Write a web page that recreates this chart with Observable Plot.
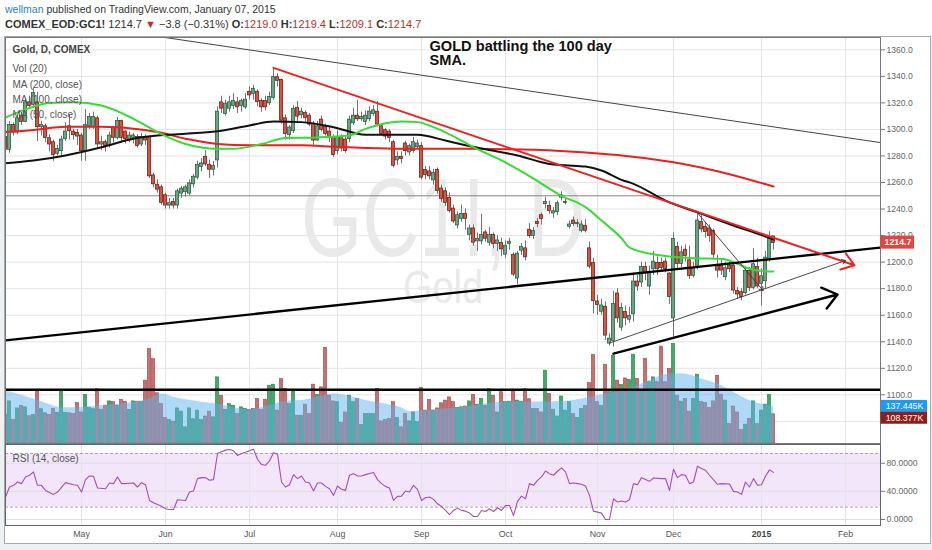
<!DOCTYPE html>
<html><head><meta charset="utf-8">
<script src="https://cdn.jsdelivr.net/npm/d3@7"></script>
<script src="https://cdn.jsdelivr.net/npm/@observablehq/plot@0.6"></script>
<style>
body{margin:0;background:#fff;}
#root{position:relative;width:932px;height:550px;overflow:hidden;background:#eef1f4;font-family:"Liberation Sans",Arial,sans-serif;}
#header{position:absolute;left:0;top:0;width:932px;height:37px;background:#fff;color:#333;}
#l1{position:absolute;left:5px;top:3px;font-size:10.5px;white-space:nowrap;}
#l2{position:absolute;left:5px;top:18px;font-size:11px;white-space:nowrap;}
#chartbg{position:absolute;left:4px;top:36px;width:927px;height:508px;background:#fff;box-sizing:border-box;border:1px solid #a9a9a9;}
.red{color:#c0312a;}
.lay{position:absolute;}
</style></head>
<body><div id="root">
<div id="header">
<div id="l1"><span style="color:#2a7fd4">wellman</span> published on TradingView.com, January 07, 2015</div>
<div id="l2"><b>COMEX_EOD:GC1!</b> 1214.7 <span class="red">&#9660;</span> &minus;3.8 (&minus;0.31%) <b>O:</b><span class="red">1219.0</span> <b>H:</b><span class="red">1219.4</span> <b>L:</b><span class="red">1209.1</span> <b>C:</b><span class="red">1214.7</span></div>
</div>
<div id="chartbg"></div>
</div>
<script>
// ---------- DATA (bar index 0 = 3 Apr 2014 ... 192 = 7 Jan 2015) ----------
const opens = [1294,1285,1303,1298,1310,1306,1320,1319,1320,1302, 1302,1293,1290,1282,1284,1293,1302,1298,1297,1295,
1284,1303,1302,1308,1289,1290,1288,1301,1294,1306, 1298,1292,1294,1294,1289,1294,1294,1265,1258,1256,
1250,1243,1245,1243,1252,1253,1252,1259,1264,1272, 1279,1273,1270,1277,1320,1312,1316,1318,1320,1318,
1317,1328,1327,1328,1321,1321,1320,1324,1339,1337, 1308,1296,1299,1316,1311,1312,1310,1304,1292,1307,
1302,1298,1294,1284,1294,1292,1293,1305,1310,1308, 1306,1308,1312,1313,1302,1299,1298,1290,1277,1279,
1289,1283,1284,1287,1287,1269,1268,1262,1269,1255, 1253,1248,1240,1228,1233,1236,1221,1225,1216,1216,
1222,1215,1220,1214,1214,1206,1214,1205,1188,1209, 1210,1224,1220,1230,1235,1244,1242,1237,1238,1249,
1245,1227,1231,1229,1224,1227,1210,1199,1170,1163, 1166,1139,1141,1176,1151,1162,1157,1161,1185,1185,
1196,1182,1195,1199,1199,1200,1191,1158,1211,1199, 1209,1201,1190,1197,1230,1226,1225,1223,1197,1197,
1189,1197,1197,1178,1177,1177,1193,1181,1196,1184, 1186,1203,1219.0];
const highs = [1297,1306,1305,1311,1313,1323,1325,1331,1328,1306, 1304,1296,1292,1288,1295,1305,1311,1300,1300,1297,
1315,1312,1313,1310,1295,1292,1298,1302,1309,1307, 1299,1298,1297,1296,1297,1296,1295,1267,1262,1258,
1252,1248,1248,1255,1257,1258,1262,1266,1276,1278, 1284,1277,1276,1317,1325,1322,1325,1327,1324,1323,
1327,1332,1333,1330,1323,1325,1328,1346,1342,1338, 1311,1303,1318,1321,1316,1314,1312,1306,1306,1310,
1304,1302,1296,1299,1296,1294,1310,1316,1322,1313, 1314,1317,1318,1321,1304,1301,1300,1292,1283,1283,
1291,1289,1294,1292,1290,1272,1272,1270,1271,1258, 1256,1252,1243,1238,1243,1240,1228,1228,1222,1236,
1224,1226,1222,1220,1218,1216,1218,1207,1208,1214, 1216,1229,1226,1233,1237,1249,1246,1241,1246,1253,
1248,1231,1234,1232,1231,1232,1215,1203,1175,1172, 1170,1146,1178,1180,1169,1167,1166,1192,1190,1200,
1200,1197,1208,1204,1203,1203,1192,1222,1215,1212, 1213,1212,1200,1238,1235,1230,1228,1225,1205,1202,
1200,1200,1199,1181,1180,1196,1196,1210,1203,1195, 1208,1223,1219.4];
const lows = [1283,1282,1295,1296,1303,1305,1315,1316,1291,1295, 1290,1283,1276,1280,1279,1291,1292,1292,1288,1276,
1276,1300,1300,1285,1284,1283,1286,1290,1292,1290, 1289,1290,1289,1286,1287,1288,1263,1256,1252,1243,
1240,1240,1240,1240,1248,1249,1250,1256,1262,1268, 1272,1263,1265,1271,1312,1310,1313,1315,1312,1313,
1315,1322,1322,1317,1313,1314,1318,1322,1332,1304, 1292,1292,1297,1305,1308,1305,1302,1288,1291,1298,
1295,1290,1279,1281,1283,1282,1290,1303,1306,1306, 1303,1306,1310,1302,1295,1292,1290,1271,1273,1274,
1280,1280,1282,1285,1262,1262,1262,1258,1251,1245, 1242,1237,1229,1225,1230,1224,1216,1212,1208,1213,
1215,1212,1210,1208,1204,1203,1209,1189,1183,1205, 1201,1218,1217,1226,1228,1240,1236,1233,1235,1246,
1243,1225,1227,1226,1222,1222,1195,1161,1160,1160, 1141,1137,1136,1154,1148,1152,1154,1155,1178,1181,
1186,1175,1190,1190,1193,1192,1168,1142,1195,1196, 1200,1187,1188,1194,1222,1218,1215,1202,1188,1190,
1186,1192,1176,1172,1171,1175,1178,1179,1180,1167, 1180,1200,1209.1];
const closes = [1285,1303,1298,1308,1306,1320,1318,1327,1302,1303, 1294,1289,1281,1285,1292,1298,1299,1296,1295,1284,
1303,1309,1309,1289,1290,1288,1295,1294,1306,1294, 1293,1295,1295,1288,1294,1292,1265,1259,1255,1245,
1243,1244,1243,1253,1255,1256,1259,1264,1273,1274, 1274,1270,1272,1313,1316,1319,1320,1321,1317,1321,
1322,1326,1330,1321,1317,1317,1324,1339,1337,1307, 1297,1301,1315,1310,1313,1309,1304,1292,1302,1300,
1297,1294,1281,1294,1286,1284,1307,1310,1308,1309, 1310,1313,1314,1304,1297,1295,1294,1273,1279,1278,
1284,1287,1290,1289,1264,1266,1265,1267,1254,1248, 1245,1239,1231,1235,1236,1233,1225,1215,1217,1220,
1218,1220,1214,1216,1210,1212,1215,1191,1206,1211, 1204,1220,1223,1229,1233,1245,1239,1238,1244,1250,
1245,1228,1229,1229,1228,1224,1197,1171,1168,1167, 1145,1142,1168,1158,1165,1158,1159,1185,1182,1196,
1192,1192,1200,1195,1196,1195,1174,1217,1199,1207, 1205,1190,1195,1231,1225,1223,1220,1206,1194,1194,
1195,1195,1179,1176,1174,1193,1181,1198,1182,1189, 1203,1218,1214.7];
const volumes = [107,156,88,130,139,134,101,106,198,127, 112,106,128,114,198,114,112,109,150,115,
180,132,127,201,125,140,156,153,140,162, 153,125,156,155,153,233,350,313,186,146,
95,87,81,130,118,60,130,90,122,87, 100,118,97,245,177,125,146,140,109,134,
128,124,128,165,125,162,214,218,122,239, 202,146,193,103,103,144,109,218,180,208,
354,177,156,153,77,115,177,153,165,69, 109,109,109,202,82,87,91,153,95,60,
109,82,115,79,206,122,162,122,130,149, 159,171,153,132,134,137,156,180,144,165,
140,201,177,115,190,153,155,193,159,155, 201,164,128,128,115,270,183,125,100,174,
122,153,109,95,128,139,224,328,153,140, 292,190,325,233,217,241,235,329,239,196,
313,227,245,227,359,227,276,369,177,155, 165,118,165,255,153,150,132,156,251,181,
159,72,137,115,50,70,91,156,72,122, 144,180,108.377];
// Volume moving average (20) read at vertices
const volMaIdx = [0,7,15,24,32,36,39,42,49,53,57,61,65,70,74,78,82,86,90,95,99,101,107,115,124,140,144,150,157,162,165,169,174,178,182,186,192];
const volMaVal = [196,165,132,140,153,165,183,171,153,146,132,125,137,156,159,171,183,175,159,146,132,118,124,135,153,156,165,183,208,239,256,258,239,220,190,159,137.445];
// Moving averages read at vertices
const ma200Idx = [0,7,15,24,32,38,45,53,61,74,82,90,99,115,132,149,154,167,179,192];
const ma200Val = [1298,1299.5,1302,1302,1300.5,1298,1293,1289,1288,1288,1287,1286,1285.4,1285.5,1284.6,1281.6,1280.4,1275.3,1267.8,1257];
const ma100Idx = [0,7,15,24,32,38,45,53,61,67,74,82,90,103,110,115,120,128,136,140,145,149,154,157,165,174,182,190,192];
const ma100Val = [1274.6,1276.6,1280.4,1286.6,1293,1295.4,1296.7,1298.7,1303,1306,1305.5,1301.7,1296,1296,1291.6,1288,1285,1280.4,1274,1273,1272,1269,1262,1259,1246.4,1236.4,1227.6,1219.3,1217];
const ma50Idx = [0,4,11,17,24,32,38,45,53,57,64,70,78,86,90,95,99,103,107,114,117,124,132,139,145,149,154,156,164,172,179,183,186,190,192];
const ma50Val = [1309,1314,1320,1320.5,1318,1308,1298,1289,1285.4,1285.4,1289,1293.6,1294,1295.5,1300.4,1304.7,1306,1305.5,1301.7,1291.6,1286.6,1276.6,1263,1250,1241.4,1231.4,1218,1211,1205,1203,1202.5,1198.7,1195,1193.2,1193];
// RSI (14) as shown on its own axis, read at vertices
const rsiIdx = [0,1,2,3,4,5,6,7,8,9,10,12,13,15,17,18,19,20,21,22,23,25,26,27,28,29,30,32,33,34,35,36,37,39,40,41,42,43,45,46,47,48,49,50,51,52,53,54,55,56,57,58,59,60,62,63,64,65,66,67,68,69,70,71,72,73,74,75,76,77,78,79,80,81,82,83,84,85,86,87,88,89,90,92,93,94,95,96,97,98,99,100,101,102,103,104,105,106,107,108,109,110,111,112,113,114,115,116,117,118,119,120,121,122,123,124,125,126,127,128,129,130,131,132,133,134,135,136,137,138,139,140,141,142,143,144,145,146,147,148,149,150,151,152,153,154,155,156,157,158,159,161,162,164,165,166,167,168,169,170,171,172,173,174,175,176,178,179,181,182,183,184,185,186,187,188,189,190,191,192];
const rsiVal = [32,46.2,48.6,53.3,51,60.5,62.9,67.6,48.6,48.6,41.4,35.7,39,52.4,49.5,48.6,39,56.7,61.9,61.4,44.8,43.8,51.9,51,60.5,51,51,51.9,46.2,52.4,49.5,27.1,23.8,19,15.2,14.3,14.3,28.1,27.1,39,40.5,58.1,59.5,59.5,55.7,56.7,93.8,96.2,98.6,99.5,97.6,91,93.8,95.7,100,85.7,78.1,77.1,83.3,94.8,92.9,53.3,46.2,49.5,63.8,58.1,61.9,53.3,51.9,40.5,51.9,51.9,47.1,43.8,34.3,47.6,42.9,41.4,62.9,65.2,61.9,61.9,63.8,66.7,56.7,51,47.1,44.8,27.1,32.9,33.3,40.5,39,48.6,42.9,27.1,31,31.9,28.6,22.4,18.6,12.9,7.1,12.9,16.2,13,11.9,9.1,4.3,4.3,12.9,11.4,15.2,11.4,16.7,12.9,20,20,5.7,25.7,33.3,29.5,51,48.6,55.7,60.5,69,65.2,62.9,68.6,73.3,67.6,51,51.9,51,50,47.6,34.3,11.9,10.5,9.1,0,0,29.5,24.8,26.2,24.8,28.1,51,49.5,59.5,54.3,59,58.1,58.3,41.4,71.4,59.5,63.8,62.9,51,53.3,75.7,72.4,70,62.9,50,51,50.5,40,39,35.7,53.3,46.2,58.1,48.6,49.5,61.4,70.5,67];
const rsiBand = [17.6, 93.8];
// Axis ticks
const monthIdx = [19,40,61,83,104,125,148,167,189,210];
const monthLabel = ["May","Jun","Jul","Aug","Sep","Oct","Nov","Dec","2015","Feb"];
const priceTicks = [1100,1120,1140,1160,1180,1200,1220,1240,1260,1280,1300,1320,1340,1360];
const priceGrid = [1080,1100,1120,1140,1160,1180,1200,1220,1240,1260,1280,1300,1320,1340,1360];
const rsiTicks = [0,40,80];
// Last values
const lastClose = 1214.7;
const lastVolMa = 137.445;
const lastVolume = 108.377;
// Drawings (bar index, price)
const drawings = [
  {kind:"thinGray",   x1:40,    p1:1369.2, x2:218.75, p2:1290.1},
  {kind:"thickBlack", x1:0,     p1:1141,   x2:218.75, p2:1211},
  {kind:"redArrow",   x1:67,    p1:1346.4, x2:212.25, p2:1197.6},
  {kind:"thinArrow",  x1:151,   p1:1139,   x2:210,    p2:1201.2},
  {kind:"thinArrow",  x1:173.2, p1:1236.4, x2:189.4,  p2:1178.6},
  {kind:"thickArrow", x1:152,   p1:1131,   x2:208,    p2:1175.6}
];
const hLevels = [{kind:"gray", p:1250}, {kind:"thick", p:1103.8}];
const note = [{x:106, p:1366, text:"GOLD battling the 100 day\nSMA."}];
const legendTitle = "Gold, D, COMEX";
const legendLines = ["Vol (20)","MA (200, close)","MA (100, close)","MA (50, close)"];
const watermark = "GC1!, D";
const watermark2 = "Gold";

// ---------- BUILD ----------
const FONT = '"Liberation Sans", Arial, sans-serif';
const bars = opens.map((o,i)=>({i, o, h:highs[i], l:lows[i], c:closes[i], v:volumes[i], up: closes[i] >= o}));
const zipPts = (xs, ys) => xs.map((x,k)=>({x, y:ys[k]}));
const ma200 = zipPts(ma200Idx, ma200Val), ma100 = zipPts(ma100Idx, ma100Val), ma50 = zipPts(ma50Idx, ma50Val);
const volMa = zipPts(volMaIdx, volMaVal);
const rsi = zipPts(rsiIdx, rsiVal);
const months = monthIdx.map((x,k)=>({x, label: monthLabel[k]}));

const xDomain = [0, 218.75];
const priceDomain = [1063.33, 1369.27];
const volDomain = [0, 1504];
const rsiDomain = [-8.5, 106.6];
const W = 932, PH = 406;
const base = {width: W, height: PH, marginLeft: 5, marginRight: 52, marginTop: 0, marginBottom: 0,
  style: {background: "transparent", fontFamily: FONT, overflow: "visible"}};
const grid = "#e4e4e4";
const root = document.getElementById("root");
function place(el, left, top){ const d=document.createElement("div"); d.className="lay"; d.style.left=left+"px"; d.style.top=top+"px"; d.appendChild(el); root.appendChild(d); }

// Layer A: grid, watermark, price axis
const layerA = Plot.plot({...base, x:{domain:xDomain, axis:null}, y:{domain:priceDomain, axis:null},
  marks:[
    Plot.ruleY(priceGrid, {stroke: grid}),
    Plot.ruleX(monthIdx, {stroke: grid}),
    Plot.text([watermark], {frameAnchor:"middle", dy:-20, fontSize:112, fill:"#e9e9e9"}),
    Plot.text([watermark2], {frameAnchor:"middle", dy:48, fontSize:46, fill:"#e9e9e9"}),
    Plot.axisY(priceTicks, {anchor:"right", label:null, tickSize:4, tickPadding:2, tickFormat: d3.format(".1f"), fontSize:8.6, color:"#666", stroke:"#777"})
  ]});
// condense the watermark glyphs to the reference's width
layerA.querySelectorAll("text").forEach(t => {
  if (t.textContent === watermark) { t.setAttribute("textLength", 284); t.setAttribute("lengthAdjust", "spacingAndGlyphs"); }
  if (t.textContent === watermark2) { t.setAttribute("textLength", 80); t.setAttribute("lengthAdjust", "spacingAndGlyphs"); }
});
place(layerA, 0, 37);

// Layer B: volume
place(Plot.plot({...base, x:{domain:xDomain, axis:null}, y:{domain:volDomain, axis:null},
  marks:[
    Plot.rect(bars, {x1: d=>d.i-0.4, x2: d=>d.i+0.4, y1: 0, y2: "v", fill: d=>d.up ? "#45a86c" : "#c8706f", stroke: d=>d.up ? "#2e7f4c" : "#9c4848", strokeWidth:0.6, clip:true}),
    Plot.areaY(volMa, {x:"x", y:"y", fill:"#5fb4f0", fillOpacity:0.5, curve:"monotone-x", clip:true})
  ]}), 0, 37);

// Layer C: candles, MAs, drawings, texts
const byKind = k => drawings.filter(d=>d.kind===k);
const seg = {x1:"x1", y1:"p1", x2:"x2", y2:"p2", clip:true};
place(Plot.plot({...base, x:{domain:xDomain, axis:null}, y:{domain:priceDomain, axis:null},
  marks:[
    Plot.ruleY(hLevels.filter(d=>d.kind==="gray"), {y:"p", stroke:"#858585", strokeWidth:1}),
    Plot.ruleY(hLevels.filter(d=>d.kind==="thick"), {y:"p", stroke:"#000", strokeWidth:2.6}),
    Plot.ruleX(bars, {x:"i", y1:"l", y2:"h", stroke:"#737375", strokeWidth:1, clip:true}),
    Plot.rect(bars, {x1: d=>d.i-0.4, x2: d=>d.i+0.4, y1:"o", y2:"c", insetTop:-0.5, insetBottom:-0.5,
      fill: d=>d.up ? "#6ba583" : "#d75442", stroke: d=>d.up ? "#225437" : "#5b1a13", strokeWidth:0.7, clip:true}),
    Plot.line(ma200, {x:"x", y:"y", stroke:"#f01d1d", strokeWidth:2, curve:"monotone-x", clip:true}),
    Plot.line(ma100, {x:"x", y:"y", stroke:"#111", strokeWidth:2, curve:"monotone-x", clip:true}),
    Plot.line(ma50, {x:"x", y:"y", stroke:"#36dc36", strokeWidth:2, curve:"monotone-x", clip:true}),
    Plot.link(byKind("thinGray"), {...seg, stroke:"#444", strokeWidth:1}),
    Plot.link(byKind("thickBlack"), {...seg, stroke:"#000", strokeWidth:2.4}),
    Plot.arrow(byKind("redArrow"), {...seg, stroke:"#ee2222", strokeWidth:2, headLength:11, headAngle:70}),
    Plot.arrow(byKind("thinArrow"), {...seg, stroke:"#333", strokeWidth:0.9, headLength:7, headAngle:70}),
    Plot.arrow(byKind("thickArrow"), {...seg, stroke:"#000", strokeWidth:2.4, headLength:11, headAngle:75}),
    Plot.text(note, {x:"x", y:"p", text:"text", textAnchor:"start", lineAnchor:"top", fontSize:14.6, fontWeight:"bold", lineHeight:0.93, fill:"#111"}),
    Plot.text([legendTitle], {frameAnchor:"top-left", dx:7, dy:8.6, lineAnchor:"top", fontSize:10, fontWeight:"bold", fill:"#444"}),
    Plot.text([legendLines.join("\n")], {frameAnchor:"top-left", dx:7, dy:24.2, lineAnchor:"top", fontSize:10, lineHeight:1.52, fill:"#555"}),
    Plot.frame({stroke:"#777"})
  ]}), 0, 37);

// Strip D: last price tag
const strip = {width:52, height:PH, marginLeft:0, marginRight:0, marginTop:0, marginBottom:0,
  x:{domain:[0,52], axis:null}, style:{background:"transparent", fontFamily:FONT, overflow:"visible"}};
place(Plot.plot({...strip, y:{domain:priceDomain, axis:null},
  marks:[
    Plot.rect([lastClose], {x1:0.5, x2:34, y1:d=>d, y2:d=>d, insetTop:-6.5, insetBottom:-6.5, fill:"#e2463e"}),
    Plot.text([lastClose], {x:17.5, y:d=>d, text:d=>d.toFixed(1), fill:"#fff", fontSize:8.8, fontWeight:"bold"})
  ]}), 880, 37);

// Strip E: volume tags
place(Plot.plot({...strip, y:{domain:volDomain, axis:null},
  marks:[
    Plot.rect([lastVolMa], {x1:0.5, x2:47, y1:d=>d, y2:d=>d, insetTop:-6, insetBottom:-6, fill:"#1e9bef"}),
    Plot.text([lastVolMa], {x:24, y:d=>d, text:d=>d.toFixed(3)+"K", fill:"#fff", fontSize:8.8}),
    Plot.rect([lastVolume], {x1:0.5, x2:47, y1:d=>d, y2:d=>d, insetTop:-2, insetBottom:-10, fill:"#8e1d1d"}),
    Plot.text([lastVolume], {x:24, y:d=>d, dy:4, text:d=>d.toFixed(3)+"K", fill:"#fff", fontSize:8.8})
  ]}), 880, 37);

// RSI pane with time axis
place(Plot.plot({width:W, height:100, marginLeft:5, marginRight:52, marginTop:1, marginBottom:18,
  style:{background:"transparent", fontFamily:FONT, overflow:"visible"},
  x:{domain:xDomain, axis:null}, y:{domain:rsiDomain, axis:null},
  marks:[
    Plot.rect([rsiBand], {x1:xDomain[0], x2:xDomain[1], y1:d=>d[0], y2:d=>d[1], fill:"#f3e6fb"}),
    Plot.ruleY(rsiTicks, {stroke:"#dedede"}),
    Plot.ruleX(monthIdx, {stroke:grid}),
    Plot.ruleY(rsiBand, {stroke:"#a8a8a8", strokeDasharray:"3,2"}),
    Plot.line(rsi, {x:"x", y:"y", stroke:"#a14fbf", strokeWidth:1.1}),
    Plot.text(["RSI (14, close)"], {frameAnchor:"top-left", dx:7, dy:10, lineAnchor:"top", fontSize:10, fill:"#555"}),
    Plot.axisY(rsiTicks, {anchor:"right", label:null, tickSize:4, tickPadding:2, tickFormat:d3.format(".4f"), fontSize:8.6, color:"#666", stroke:"#777"}),
    Plot.text(months.filter(d=>d.label!=="2015"), {x:"x", text:"label", frameAnchor:"bottom", dy:11, fontSize:8.8, fill:"#555"}),
    Plot.text(months.filter(d=>d.label==="2015"), {x:"x", text:"label", frameAnchor:"bottom", dy:11, fontSize:8.8, fontWeight:"bold", fill:"#444"}),
    Plot.frame({stroke:"#666"})
  ]}), 0, 443);
</script>
</body></html>
